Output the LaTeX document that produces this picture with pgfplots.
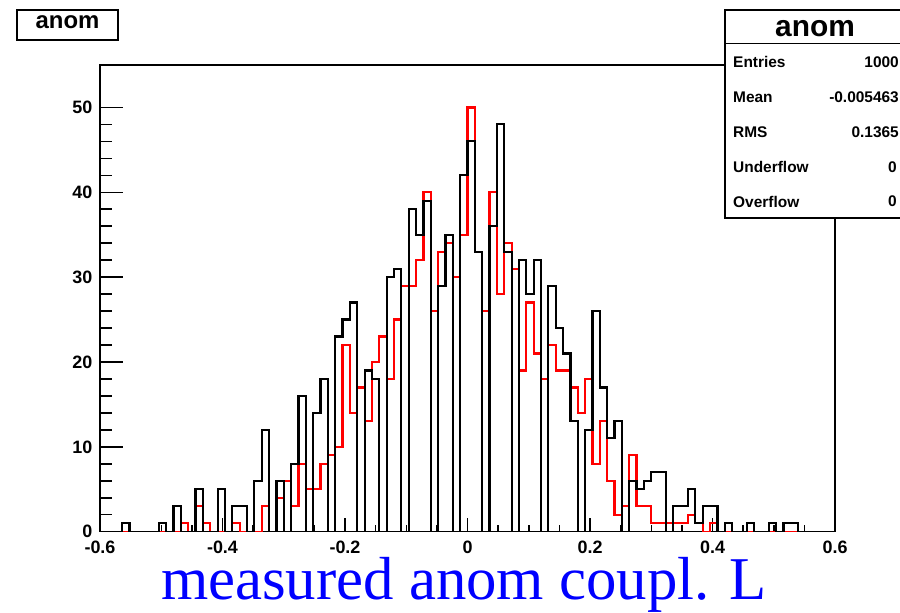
\documentclass[border=0pt]{standalone}
\usepackage{fontspec}
\setmainfont{Liberation Sans}
\newfontfamily\timesfont{Liberation Serif}
\usepackage{pgfplots}
\usepackage{pgfplotstable}
\pgfplotsset{compat=1.18}
\definecolor{rootred}{RGB}{255,0,0}
\definecolor{rootblue}{RGB}{0,0,255}
\pgfplotstableread{
x black red
-0.600 0 0
-0.588 0 0
-0.576 0 0
-0.564 1 0
-0.552 0 0
-0.540 0 0
-0.528 0 0
-0.516 0 0
-0.504 1 0
-0.492 0 0
-0.480 3 0
-0.468 0 1
-0.456 0 0
-0.444 5 3
-0.432 0 1
-0.420 0 0
-0.408 5 0
-0.396 0 0
-0.384 3 1
-0.372 3 0
-0.360 0 0
-0.348 6 0
-0.336 12 3
-0.324 0 0
-0.312 6 4
-0.300 0 6
-0.288 8 3
-0.276 16 8
-0.264 0 5
-0.252 14 5
-0.240 18 8
-0.228 0 9
-0.216 23 10
-0.204 25 22
-0.192 27 14
-0.180 0 17
-0.168 19 13
-0.156 18 20
-0.144 0 23
-0.132 30 18
-0.120 31 25
-0.108 0 29
-0.096 38 29
-0.084 35 32
-0.072 39 40
-0.060 0 26
-0.048 29 33
-0.036 35 34
-0.024 0 30
-0.012 42 35
0.000 46 50
0.012 33 33
0.024 0 26
0.036 36 40
0.048 48 28
0.060 33 34
0.072 0 31
0.084 32 19
0.096 28 27
0.108 32 21
0.120 0 18
0.132 29 22
0.144 24 19
0.156 21 19
0.168 13 17
0.180 0 14
0.192 12 18
0.204 26 8
0.216 17 13
0.228 11 6
0.240 13 2
0.252 0 3
0.264 6 9
0.276 5 3
0.288 6 3
0.300 7 1
0.312 7 1
0.324 0 1
0.336 3 1
0.348 3 1
0.360 5 2
0.372 1 1
0.384 3 0
0.396 3 1
0.408 0 0
0.420 1 0
0.432 0 0
0.444 0 0
0.456 1 0
0.468 0 0
0.480 0 0
0.492 1 0
0.504 0 0
0.516 1 0
0.528 1 0
0.540 0 0
0.552 0 0
0.564 0 0
0.576 0 0
0.588 0 0
0.600 0 0
}\histdata
\begin{document}
\begin{tikzpicture}[x=1bp,y=1bp]
\path[use as bounding box] (0,0) rectangle (900,613);
% main axis: data, frame, x ticks
\begin{axis}[
  at={(100bp,81.3bp)}, anchor=south west,
  scale only axis, width=735bp, height=466.7bp,
  xmin=-0.6, xmax=0.6, ymin=0, ymax=55,
  axis line style={line width=1.5bp, black},
  tick pos=left, tick align=inside,
  xtick={-0.6,-0.4,-0.2,0,0.2,0.4,0.6},
  xticklabels={-0.6,-0.4,-0.2,0,0.2,0.4,0.6},
  minor x tick num=3,
  ytick=\empty,
  major tick length=14bp, minor tick length=7bp,
  tick style={line width=1.5bp, black},
  xticklabel style={font=\bfseries\fontsize{18}{18}\selectfont, anchor=north, inner sep=0pt, yshift=-9.5bp},
]
\addplot[const plot, draw=rootred, line width=2.2bp] table[x=x, y=red] {\histdata};
\addplot[const plot, draw=black, line width=2.2bp] table[x=x, y=black] {\histdata};
\end{axis}
% second axis: y ticks only (longer tick length)
\begin{axis}[
  at={(100bp,81.3bp)}, anchor=south west,
  scale only axis, width=735bp, height=466.7bp,
  xmin=-0.6, xmax=0.6, ymin=0, ymax=55,
  axis line style={draw=none},
  tick pos=left, tick align=inside,
  xtick=\empty,
  ytick={0,10,20,30,40,50},
  yticklabels={0,10,20,30,40,50},
  minor y tick num=4,
  major tick length=23bp, minor tick length=12bp,
  tick style={line width=1.5bp, black},
  yticklabel style={font=\bfseries\fontsize{18}{18}\selectfont, anchor=east, inner sep=0pt, xshift=-7.5bp},
]
\end{axis}
% title box
\draw[line width=1.3bp, fill=white] (17,573) rectangle (118,603);
\node[font=\bfseries\fontsize{24}{24}\selectfont, inner sep=0pt] at (67.5,591) {anom};
% stats box
\draw[line width=1.3bp, fill=white] (725,395) rectangle (915,603);
\draw[line width=1.3bp] (725,569.7) -- (915,569.7);
\node[font=\bfseries\fontsize{30}{30}\selectfont, inner sep=0pt] at (815,584) {anom};
\begin{scope}[every node/.style={font=\bfseries\fontsize{15.5}{15.5}\selectfont, inner sep=0pt}]
\node[anchor=west] at (733,551.3) {Entries};
\node[anchor=west] at (733,516) {Mean};
\node[anchor=west] at (733,481) {RMS};
\node[anchor=west] at (733,446) {Underflow};
\node[anchor=west] at (733,411.5) {Overflow};
\node[anchor=east] at (899,551.3) {1000};
\node[anchor=east] at (899,516) {-0.005463};
\node[anchor=east] at (899,481) {0.1365};
\node[anchor=east] at (897,446) {0};
\node[anchor=east] at (897,411.5) {0};
\end{scope}
% x axis title
\node[font=\timesfont\fontsize{61}{61}\selectfont, text=rootblue, anchor=base, inner sep=0pt] at (464,13) {measured anom coupl. L};
\end{tikzpicture}
\end{document}
